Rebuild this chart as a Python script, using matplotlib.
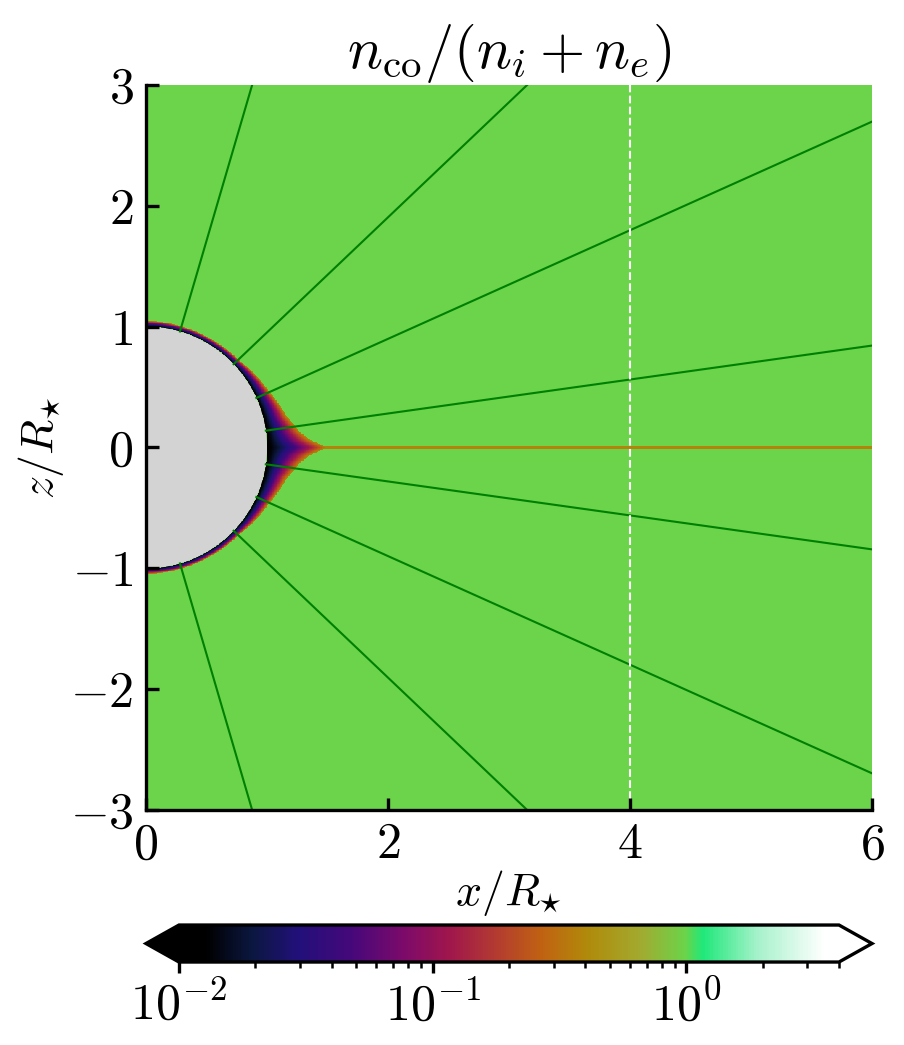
import numpy as np
import matplotlib
matplotlib.use('Agg')
import matplotlib.pyplot as plt
from matplotlib.colors import LinearSegmentedColormap, LogNorm
from matplotlib.patches import Circle
from matplotlib.ticker import FuncFormatter, FixedLocator, NullFormatter

plt.rcParams['mathtext.fontset'] = 'cm'
plt.rcParams['font.family'] = 'serif'
plt.rcParams['font.serif'] = ['cmr10', 'DejaVu Serif']
plt.rcParams['font.size'] = 10

# values
vmin, vmax = 0.01, 4.0
background_value = 1.0          # the uniform green field
sheath_lat_deg = [0.0, 1.0, 2.6, 5.7, 12.2, 25.2, 43.0, 60.0, 90.0]
sheath_r_out = [1.50, 1.44, 1.357, 1.279, 1.192, 1.114, 1.055, 1.045, 1.045]
sheath_inner_value = 0.012     # at the stellar surface
sheath_rim_value = 0.4         # at the outer edge of the layer
eq_line_value = 0.38           # thin equatorial sheet
eq_line_halfwidth = 0.01
field_line_colat_deg = [16.3, 46.4, 65.8, 82.0]
cut_x = 4.0

# colour map (black -> indigo -> magenta -> orange -> olive -> green -> white)
cmap_pos = [0.0, 0.04, 0.11, 0.18, 0.26, 0.34, 0.41, 0.49, 0.55, 0.62, 0.70,
            0.7686, 0.795, 0.88, 0.98, 1.0]
cmap_col = ['#000000', '#000000', '#0b1740', '#22107a', '#45087a', '#7c0a6a',
            '#a0164c', '#b5402c', '#c06212', '#b08a0a', '#a2aa30', '#6bd44a',
            '#20e87a', '#a8f2cc', '#ffffff', '#ffffff']
cmap = LinearSegmentedColormap.from_list('nco', list(zip(cmap_pos, cmap_col)))
cmap.set_under('black')
cmap.set_over('white')

# build the map
xe = np.linspace(0, 6, 1001)
ze = np.linspace(-3, 3, 1001)
xc = 0.5 * (xe[1:] + xe[:-1])
zc = 0.5 * (ze[1:] + ze[:-1])
X, Z = np.meshgrid(xc, zc)
R = np.hypot(X, Z)
lat = np.degrees(np.arctan2(np.abs(Z), X))
r_out = np.interp(lat, sheath_lat_deg, sheath_r_out)

field = np.full(X.shape, background_value)
sheath = (R >= 1.0) & (R < r_out)
f = (R - 1.0) / (r_out - 1.0)
lo, hi = np.log10(sheath_inner_value), np.log10(sheath_rim_value)
field[sheath] = 10 ** (lo + (hi - lo) * f[sheath] ** 1.3)
eq = (np.abs(Z) < eq_line_halfwidth) & (R >= r_out) & (X > 1.0)
field[eq] = eq_line_value

fig = plt.figure(figsize=(904 / 300, 1045 / 300), dpi=300)
ax = fig.add_axes([0.1615, 0.2249, 0.8031, 0.6938])
cax = fig.add_axes([0.1615, 0.0794, 0.8031, 0.0354])

mesh = ax.pcolormesh(xe, ze, field, cmap=cmap, norm=LogNorm(vmin, vmax),
                     shading='flat', rasterized=True)
ax.add_patch(Circle((0, 0), 1.0, facecolor='lightgray', edgecolor='none', zorder=1.2))

# field lines (radial, starting at the surface)
r_line = np.array([1.0, 12.0])
for th in field_line_colat_deg:
    for t in (th, 180.0 - th):
        tr = np.radians(t)
        ax.plot(r_line * np.sin(tr), r_line * np.cos(tr), color='green', lw=0.5, zorder=2)

ax.axvline(cut_x, color='white', lw=0.5, ls='--', zorder=2.2)

ax.set_xlim(0, 6)
ax.set_ylim(-3, 3)
ax.set_xticks([0, 2, 4, 6])
ax.set_yticks([-3, -2, -1, 0, 1, 2, 3])
fmt = FuncFormatter(lambda v, p: f'${v:g}$')
ax.xaxis.set_major_formatter(fmt)
ax.yaxis.set_major_formatter(fmt)
ax.spines['top'].set_visible(False)
ax.spines['right'].set_visible(False)
ax.set_axisbelow(False)
ax.tick_params(direction='in', length=3, width=0.8, labelsize=12, pad=3)
ax.set_xlabel(r'$x/R_{\star}$', fontsize=11, labelpad=0)
ax.set_ylabel(r'$z/R_{\star}$', fontsize=11, labelpad=1)
ax.set_title(r'$n_{\mathrm{co}}/(n_i+n_e)$', fontsize=14, pad=2)

cb = fig.colorbar(mesh, cax=cax, orientation='horizontal', extend='both')
cb.outline.set_linewidth(0.8)
cb.ax.xaxis.set_major_locator(FixedLocator([0.01, 0.1, 1.0]))
cb.ax.xaxis.set_major_formatter(
    FuncFormatter(lambda v, p: '$10^{%d}$' % int(round(np.log10(v)))))
minors = [m * 10.0 ** e for e in (-2, -1, 0) for m in range(2, 10) if m * 10.0 ** e <= vmax]
cb.ax.xaxis.set_minor_locator(FixedLocator(minors))
cb.ax.xaxis.set_minor_formatter(NullFormatter())
cb.ax.tick_params(which='major', direction='out', length=2.6, width=0.8, labelsize=12, pad=2)
cb.ax.tick_params(which='minor', direction='out', length=1.5, width=0.6)

fig.savefig('out.png', dpi=300)
